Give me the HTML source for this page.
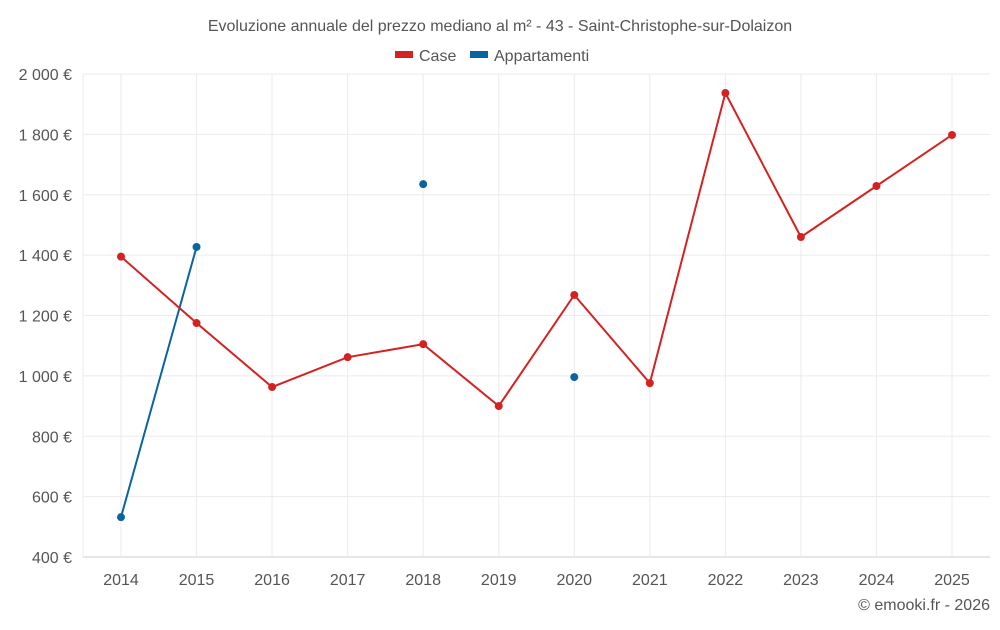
<!DOCTYPE html>
<html><head><meta charset="utf-8"><style>
body{margin:0;background:#fff;font-family:"Liberation Sans",sans-serif;}
svg text{font-family:"Liberation Sans",sans-serif;fill:#555;}
</style></head><body>
<svg id="chart" width="1000" height="625">
<text x="500" y="31" text-anchor="middle" font-size="16">Evoluzione annuale del prezzo mediano al m² - 43 - Saint-Christophe-sur-Dolaizon</text>
<g>
<g><rect x="395" y="51" width="18" height="7" fill="#d42222"/><text x="419" y="61" font-size="16">Case</text></g>
<g><rect x="470" y="51" width="18" height="7" fill="#0a64a0"/><text x="494" y="61" font-size="16">Appartamenti</text></g>
</g>
<g id="grid"></g><g id="axes"></g><g id="series"></g>
<text x="990" y="610" text-anchor="end" font-size="16">© emooki.fr - 2026</text>
</svg>
<script>
const years=[2014,2015,2016,2017,2018,2019,2020,2021,2022,2023,2024,2025];
const caseVals=[1395,1175,963,1062,1105,900,1268,976,1937,1460,1629,1798];
const apptVals=[532,1427,null,null,1635,null,996,null,null,null,null,null];
const yTicks=[400,600,800,1000,1200,1400,1600,1800,2000];
const tickLabels=["400 €","600 €","800 €","1 000 €","1 200 €","1 400 €","1 600 €","1 800 €","2 000 €"];
const NS="http://www.w3.org/2000/svg";
const x0=83,x1=990,yTop=74,yBot=557;
const xs=i=>121+i*(952-121)/(years.length-1);
const ys=v=>yBot-(v-400)/(2000-400)*(yBot-yTop);
function mk(t,a,p){const e=document.createElementNS(NS,t);for(const k in a)e.setAttribute(k,a[k]);p.appendChild(e);return e;}
const grid=document.getElementById('grid'),axes=document.getElementById('axes'),ser=document.getElementById('series');
yTicks.forEach((v,i)=>{
 const l=mk('line',{x1:x0,x2:x1,y1:ys(v),y2:ys(v),stroke:i==0?'#ccc':'#ebebeb'},grid);
 
 
 const t=mk('text',{x:72,y:ys(v)+6,'text-anchor':'end','font-size':16},axes);t.textContent=tickLabels[i];
 
 
});
mk('line',{x1:x0,x2:x0,y1:yTop,y2:yBot,stroke:'#ebebeb'},grid);
years.forEach((y,i)=>{
 const l=mk('line',{x1:xs(i),x2:xs(i),y1:yTop,y2:yBot,stroke:'#ebebeb'},grid);
 
 
 const t=mk('text',{x:xs(i),y:585,'text-anchor':'middle','font-size':16},axes);t.textContent=y;
 
 
});
function draw(vals,color,name){
 let segs=[],cur=[];
 vals.forEach((v,i)=>{if(v==null){if(cur.length)segs.push(cur);cur=[];}else cur.push([xs(i),ys(v)]);});
 if(cur.length)segs.push(cur);
 segs.forEach(s=>{if(s.length>1){const p=mk('polyline',{points:s.map(q=>q.join(',')).join(' '),fill:'none',stroke:color,'stroke-width':2},ser);
  
  }});
 vals.forEach((v,i)=>{if(v==null)return;const c=mk('circle',{cx:xs(i),cy:ys(v),r:4,fill:color},ser);
  
  });
}
draw(apptVals,'#0a64a0','appartamenti');
draw(caseVals,'#d42222','case');
</script>
</body></html>
